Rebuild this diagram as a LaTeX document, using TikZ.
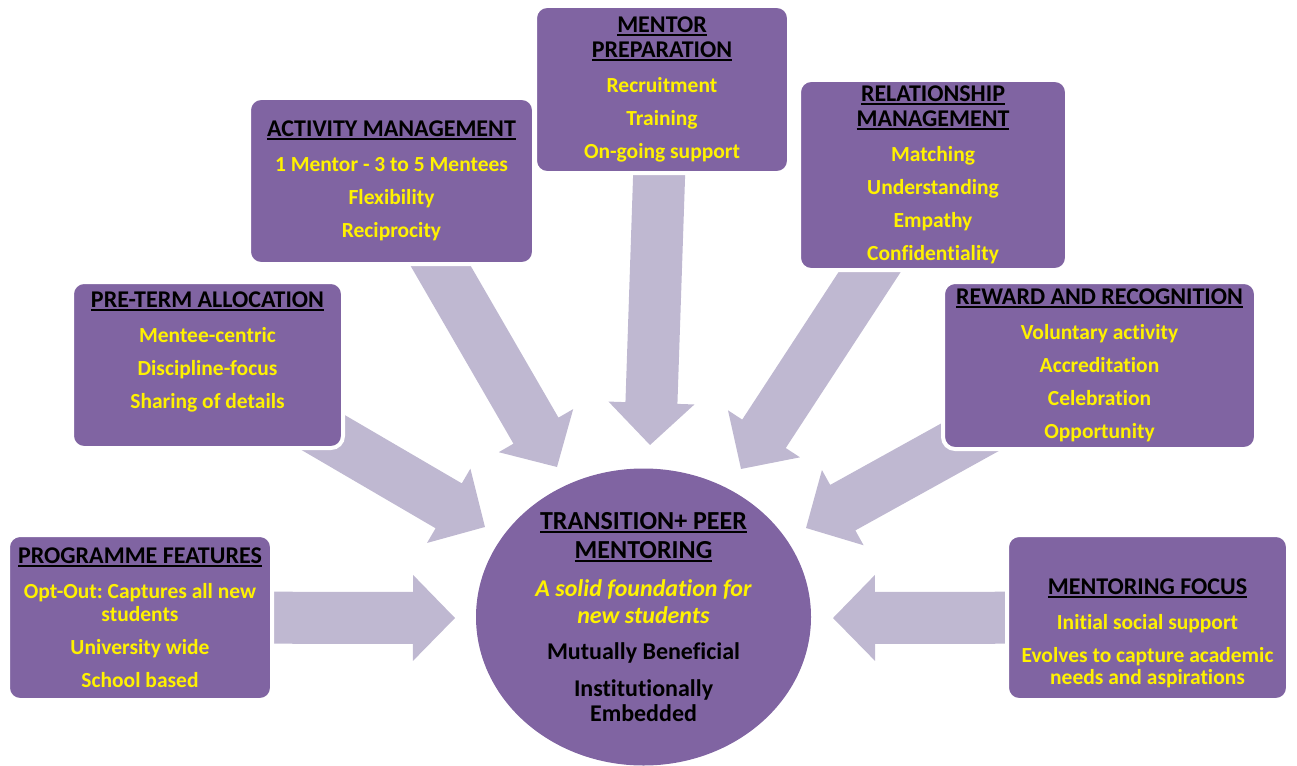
\documentclass[tikz,border=0pt]{standalone}
\usepackage{fontspec}
\setmainfont{Carlito}[Ligatures=NoCommon]
\frenchspacing
\usetikzlibrary{calc, shapes.geometric, backgrounds}
\definecolor{boxpurple}{HTML}{8064A2}
\definecolor{arrowlilac}{HTML}{BFB8D1}
\def\BoxColor{boxpurple}
\def\ArrowColor{arrowlilac}

% underlined black heading
\newcommand{\ulbar}[1]{\setbox0=\hbox{#1}\leavevmode\rlap{\rule[-3.5pt]{\wd0}{2pt}}\box0}
\newcommand{\heading}[1]{{\color{black}\fontsize{24}{26}\selectfont\ulbar{#1}}}
\newcommand{\hubheading}[1]{{\color{black}\fontsize{26}{28}\selectfont\ulbar{#1}}}
\newcommand{\tagline}[1]{{\color{yellow}\itshape #1}}

% block arrow from a box towards a tip
\newcommand{\bigarrow}[2]{%
  \fill[\ArrowColor] let \p1=(#1), \p2=(#2),
    \n1={atan2(\y2-\y1,\x2-\x1)}, \n2={veclen(\x2-\x1,\y2-\y1)}, \n3={\n2-42pt} in
    [shift={(\p1)}, rotate=\n1]
    (0pt,-26pt) -- (\n3,-26pt) -- (\n3,-43pt) -- (\n2,0pt)
    -- (\n3,43pt) -- (\n3,26pt) -- (0pt,26pt) -- cycle;}

\begin{document}
\begin{tikzpicture} [
    x=1pt, y=-1pt,
    box/.style = {draw=white, line width=4pt, fill=\BoxColor, rounded corners=12pt},
    txt/.style = {align=center, text=yellow, font=\fontsize{21.5}{22.5}\selectfont\bfseries, inner sep=0pt},
    hub/.style = {ellipse, fill=\BoxColor, minimum width=335pt, minimum height=297pt, inner sep=0pt},
    hubtxt/.style = {align=center, font=\fontsize{24}{27}\selectfont\bfseries, inner sep=0pt}
    ]
  \useasboundingbox (0,0) rectangle (1297,765);

  %%% CENTRE %%%
  \node[hub] (hub) at (643.5,617) {};
  \node[hubtxt] (hub-txt) at (hub) {\hubheading{TRANSITION+ PEER}\\[2pt]
    \hubheading{MENTORING}\\[11pt]
    \tagline{A solid foundation for}\\
    \tagline{new students}\\[9pt]
    Mutually Beneficial\\[10pt]
    Institutionally\\[-2pt]
    Embedded};

  %%% PROGRAMME FEATURES %%%
  \node[box, minimum width=264pt, minimum height=165pt] (feat) at (140,617.5) {};
  \node[txt] (feat-txt) at (feat) {\heading{PROGRAMME FEATURES}\\[12.5pt]
    Opt-Out: Captures all new\\
    students\\[10.5pt]
    University wide\\[10.5pt]
    School based};

  %%% PRE-TERM ALLOCATION %%%
  \node[box, minimum width=271pt, minimum height=166pt] (pre) at (207.5,365) {};
  \node[txt, yshift=13pt] (pre-txt) at (pre) {\heading{PRE-TERM ALLOCATION}\\[12.5pt]
    Mentee-centric\\[10.5pt]
    Discipline-focus\\[10.5pt]
    Sharing of details};

  %%% ACTIVITY MANAGEMENT %%%
  \node[box, minimum width=285pt, minimum height=166pt] (act) at (391.5,181) {};
  \node[txt] (act-txt) at (act) {\heading{ACTIVITY MANAGEMENT}\\[12.5pt]
    1 Mentor - 3 to 5 Mentees\\[10.5pt]
    Flexibility\\[10.5pt]
    Reciprocity};

  %%% MENTOR PREPARATION %%%
  \node[box, minimum width=254pt, minimum height=167pt] (prep) at (662,89.5) {};
  \node[txt] (prep-txt) at (prep) {\heading{MENTOR}\\[3pt]
    \heading{PREPARATION}\\[12.5pt]
    Recruitment\\[10.5pt]
    Training\\[10.5pt]
    On-going support};

  %%% RELATIONSHIP MANAGEMENT %%%
  \node[box, minimum width=268pt, minimum height=190pt] (rel) at (933,175) {};
  \node[txt] (rel-txt) at (rel) {\heading{RELATIONSHIP}\\[3pt]
    \heading{MANAGEMENT}\\[12.5pt]
    Matching\\[10.5pt]
    Understanding\\[10.5pt]
    Empathy\\[10.5pt]
    Confidentiality};

  %%% REWARD AND RECOGNITION %%%
  \node[box, minimum width=313pt, minimum height=167pt] (rew) at (1099.5,365.5) {};
  \node[txt] (rew-txt) at (rew) {\heading{REWARD AND RECOGNITION}\\[12.5pt]
    Voluntary activity\\[10.5pt]
    Accreditation\\[10.5pt]
    Celebration\\[10.5pt]
    Opportunity};

  %%% MENTORING FOCUS %%%
  \node[box, minimum width=281pt, minimum height=165pt] (foc) at (1147.5,617.5) {};
  \node[txt, yshift=-16pt] (foc-txt) at (foc) {\heading{MENTORING FOCUS}\\[12.5pt]
    Initial social support\\[10.5pt]
    Evolves to capture academic\\
    needs and aspirations};

  % arrow tips
  \coordinate (feat-tip) at (455,618);
  \coordinate (pre-tip)  at (485,527);
  \coordinate (act-tip)  at (557,467);
  \coordinate (prep-tip) at (650,445);
  \coordinate (rel-tip)  at (741,469);
  \coordinate (rew-tip)  at (806,528);
  \coordinate (foc-tip)  at (833,618);

  % Arrows
  \begin{scope}[on background layer]
    \bigarrow{feat}{feat-tip}
    \bigarrow{pre}{pre-tip}
    \bigarrow{act}{act-tip}
    \bigarrow{prep}{prep-tip}
    \bigarrow{rel}{rel-tip}
    \bigarrow{rew}{rew-tip}
    \bigarrow{foc}{foc-tip}
  \end{scope}

\end{tikzpicture}
\end{document}
